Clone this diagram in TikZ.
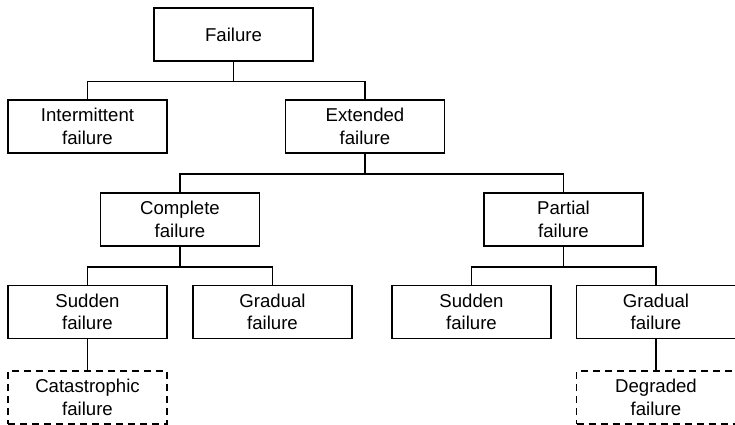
\documentclass[tikz,border=0pt]{standalone}
\usepackage{fontspec}
\setmainfont{Liberation Sans}
\usetikzlibrary{positioning}

\tikzset{
  fbox/.style={draw, line width=1.8pt, minimum width=159pt, minimum height=53pt,
    inner sep=0pt, align=center, font=\fontsize{18.6}{22.5}\selectfont},
  fdash/.style={fbox, dash pattern=on 7pt off 5pt},
  link/.style={line width=1.8pt}
}

\begin{document}
\begin{tikzpicture}[x=1pt,y=-1pt]
\useasboundingbox (0,0) rectangle (735,424);

\node[fbox] (F) at (233.5,34.5) {Failure};
\node[fbox] (FI) at (87.5,126.5) {Intermittent\\failure};
\node[fbox] (FE) at (365,126.5) {Extended\\failure};
\node[fbox] (FC) at (180,219.5) {Complete\\failure};
\node[fbox] (FP) at (563.5,219.5) {Partial\\failure};
\node[fbox] (FCS) at (87.5,312) {Sudden\\failure};
\node[fbox] (FCG) at (272.5,312) {Gradual\\failure};
\node[fbox] (FPS) at (471.5,312) {Sudden\\failure};
\node[fbox] (FPG) at (656,312) {Gradual\\failure};
\node[fdash] (FCSC) at (87.5,397.5) {Catastrophic\\failure};
\node[fdash] (FPGD) at (656,397.5) {Degraded\\failure};

\draw[link] (F.south) -- ++(0,19.5) -| (FI.north);
\draw[link] (F.south) ++(0,19.5) -| (FE.north);
\draw[link] (FE.south) -- ++(0,20) -| (FC.north);
\draw[link] (FE.south) ++(0,20) -| (FP.north);
\draw[link] (FC.south) -- ++(0,20) -| (FCS.north);
\draw[link] (FC.south) ++(0,20) -| (FCG.north);
\draw[link] (FP.south) -- ++(0,20) -| (FPS.north);
\draw[link] (FP.south) ++(0,20) -| (FPG.north);
\draw[link] (FCS) -- (FCSC);
\draw[link] (FPG) -- (FPGD);

\end{tikzpicture}
\end{document}
